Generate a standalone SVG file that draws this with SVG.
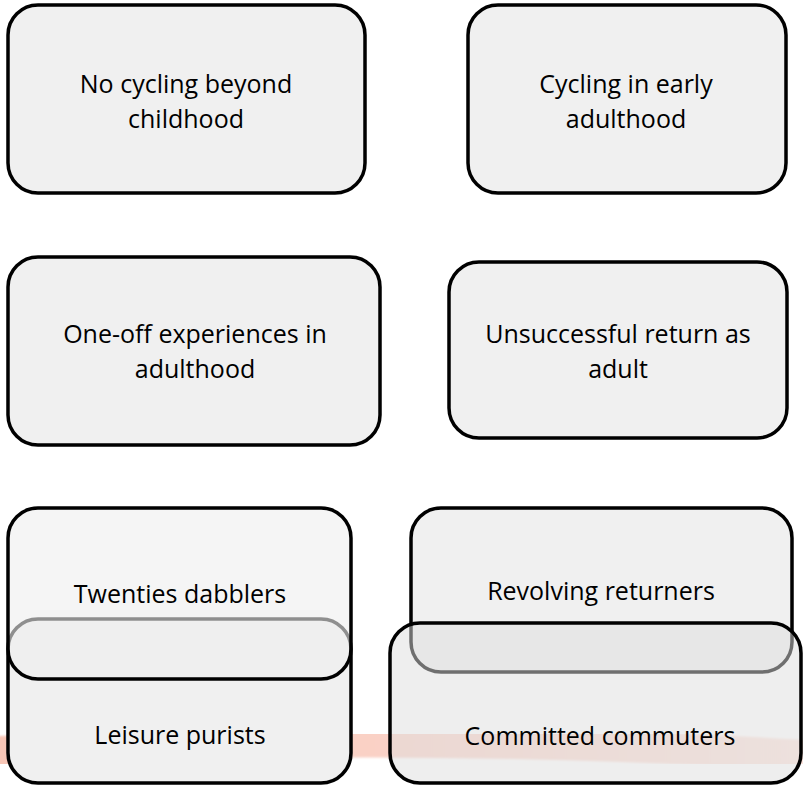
<svg xmlns="http://www.w3.org/2000/svg" width="803" height="786" viewBox="0 0 803 786">
<style>
.box{stroke:#000;stroke-width:3.5}
.solid{fill:#f0f0f0}
.lbl{font-family:"Open Sans","Liberation Sans",sans-serif;font-size:25px;fill:#000;text-anchor:middle}
</style>
<defs>
<linearGradient id="stripe" gradientUnits="userSpaceOnUse" x1="0" y1="0" x2="803" y2="0">
<stop offset="0" stop-color="#f8c6b6"/>
<stop offset="0.5" stop-color="#fad2c7"/>
<stop offset="1" stop-color="#fce4dd"/>
</linearGradient>
<filter id="soft" x="-5%" y="-50%" width="110%" height="200%"><feGaussianBlur stdDeviation="1.2"/></filter>
</defs>
<rect width="803" height="786" fill="#fff"/>
<g id="background-stripe">
<path d="M -10 752 Q 400 730 815 756" fill="none" stroke="url(#stripe)" stroke-width="31" filter="url(#soft)"/>
</g>
<g id="connectors"/>
<g id="node-no-cycling">
<rect class="box solid" x="8" y="5" width="357" height="188" rx="30"/>
<text class="lbl" x="186" y="93">No cycling beyond</text>
<text class="lbl" x="186" y="128">childhood</text>
</g>
<g id="node-early-adulthood">
<rect class="box solid" x="468" y="5" width="318" height="188" rx="30"/>
<text class="lbl" x="626" y="93">Cycling in early</text>
<text class="lbl" x="626" y="128">adulthood</text>
</g>
<g id="node-one-off">
<rect class="box solid" x="8" y="257" width="372" height="188" rx="30"/>
<text class="lbl" x="195" y="343">One-off experiences in</text>
<text class="lbl" x="195" y="378">adulthood</text>
</g>
<g id="node-unsuccessful">
<rect class="box solid" x="449" y="262" width="338" height="176" rx="30"/>
<text class="lbl" x="618" y="343">Unsuccessful return as</text>
<text class="lbl" x="618" y="378">adult</text>
</g>
<g id="node-leisure-purists">
<rect class="box solid" x="8" y="619" width="343" height="164" rx="30"/>
<text class="lbl" x="180" y="744">Leisure purists</text>
</g>
<g id="node-twenties-dabblers">
<rect class="box" x="8" y="508" width="343" height="171" rx="30" fill="rgb(238,238,238)" fill-opacity="0.6"/>
<text class="lbl" x="180" y="603">Twenties dabblers</text>
</g>
<g id="node-revolving-returners">
<rect class="box solid" x="411" y="508" width="381" height="164" rx="30"/>
<text class="lbl" x="601" y="600">Revolving returners</text>
</g>
<g id="node-committed-commuters">
<rect class="box" x="390" y="623" width="411" height="160" rx="30" fill="rgb(222,222,222)" fill-opacity="0.5"/>
<text class="lbl" x="600" y="745">Committed commuters</text>
</g>
</svg>
